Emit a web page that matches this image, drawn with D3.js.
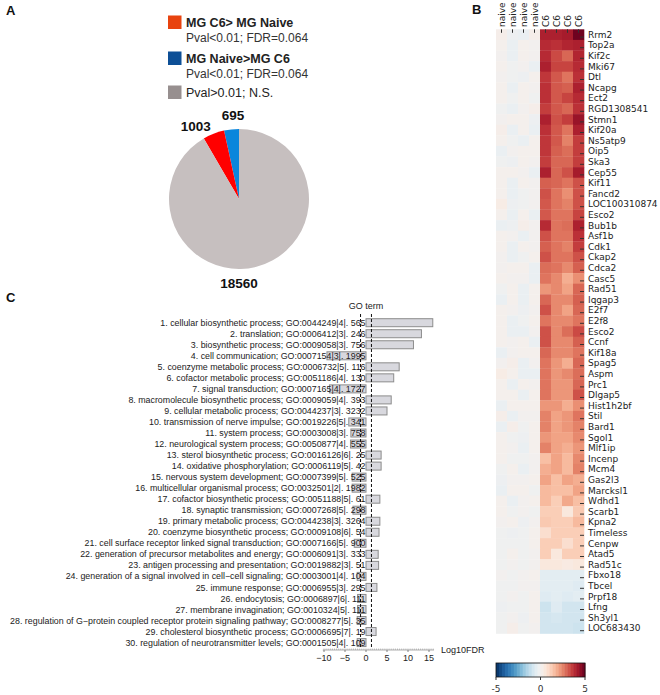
<!DOCTYPE html>
<html><head><meta charset="utf-8">
<script src="https://cdn.jsdelivr.net/npm/d3@7"></script>
<style>html,body{margin:0;padding:0;background:#fff;}svg{display:block;}</style>
</head><body>
<script>
// ---------- Panel A data ----------
const pieLabels = ["695", "1003", "18560"];
const pieCounts = [695, 1003, 18560];
const pieColors = ["#0a86dc", "#ff0000", "#c6bfbf"];
const legendTitles = ["MG C6> MG Naive", "MG Naive>MG C6", "Pval>0.01; N.S."];
const legendSubs = ["Pval<0.01; FDR=0.064", "Pval<0.01; FDR=0.064", ""];
const legendColors = ["#e8430f", "#0d4f96", "#978f8f"];
const legendBold = [true, true, false];

// ---------- Panel B data ----------
const sampleLabels = ["naive","naive","naive","naive","C6","C6","C6","C6"];
const genes = ["Rrm2","Top2a","Kif2c","Mki67","Dtl","Ncapg","Ect2","RGD1308541","Stmn1","Kif20a",
 "Ns5atp9","Oip5","Ska3","Cep55","Kif11","Fancd2","LOC100310874","Esco2","Bub1b","Asf1b",
 "Cdk1","Ckap2","Cdca2","Casc5","Rad51","Iqgap3","E2f7","E2f8","Esco2","Ccnf",
 "Kif18a","Spag5","Aspm","Prc1","Dlgap5","Hist1h2bf","Stil","Bard1","Sgol1","Mlf1ip",
 "Incenp","Mcm4","Gas2l3","Marcksl1","Wdhd1","Scarb1","Kpna2","Timeless","Cenpw","Atad5",
 "Rad51c","Fbxo18","Tbcel","Prpf18","Lfng","Sh3yl1","LOC683430"];
const naiveValues = [
 [0.2,-0.2,-0.3,0.2],[0.1,-0.3,0.1,0.0],[0.0,-0.3,0.1,0.0],[0.1,-0.1,0.0,-0.3],[0.0,-0.1,-0.2,0.1],
 [0.1,-0.3,0.1,0.0],[0.1,-0.1,0.1,-0.1],[-0.1,-0.3,0.0,0.2],[0.0,0.1,0.1,-0.2],[0.2,-0.3,0.1,-0.3],
 [0.1,-0.1,-0.3,0.1],[-0.3,0.0,0.1,0.1],[-0.1,-0.2,0.1,0.0],[0.1,0.1,0.0,-0.3],[0.1,-0.3,0.1,0.0],
 [0.1,-0.3,-0.1,0.0],[0.3,-0.2,-0.1,0.0],[0.1,-0.3,0.1,-0.3],[-0.3,-0.2,0.2,0.0],[0.1,0.0,-0.3,0.0],
 [0.1,-0.3,0.1,0.0],[0.0,-0.3,-0.1,0.1],[0.0,0.1,0.1,-0.3],[0.1,0.0,0.0,-0.3],[-0.1,0.1,-0.3,0.1],
 [-0.3,0.1,-0.3,0.1],[0.1,0.0,-0.2,0.0],[0.1,-0.3,-0.1,0.1],[0.1,-0.3,-0.3,0.0],[0.1,0.0,0.1,-0.3],
 [-0.3,0.0,0.1,0.1],[0.0,0.2,-0.3,0.0],[0.3,0.1,-0.3,-0.3],[0.1,-0.3,0.1,0.0],[0.1,0.1,-0.3,0.1],
 [-0.3,0.1,0.1,0.1],[0.2,-0.3,0.0,0.0],[-0.3,0.2,-0.1,0.1],[0.1,-0.1,-0.2,0.1],[0.1,0.0,-0.3,0.1],
 [0.1,-0.1,-0.1,0.0],[-0.1,0.1,-0.3,0.0],[-0.2,0.0,0.0,0.1],[-0.3,0.1,0.1,-0.1],[0.1,-0.3,0.0,0.1],
 [0.1,-0.1,0.0,-0.1],[0.0,0.1,-0.2,0.0],[-0.1,-0.2,-0.1,0.1],[-0.1,-0.1,-0.1,0.1],[-0.1,0.1,-0.1,0.0],
 [-0.1,0.0,-0.1,0.0],[0.0,-0.1,0.0,0.1],[-0.1,-0.1,0.0,0.0],[-0.1,0.0,-0.1,0.1],[-0.2,-0.1,-0.1,0.1],
 [-0.1,0.0,-0.2,0.1],[-0.1,0.2,-0.1,0.0]];
const c6Values = [
 [4.0,4.0,4.1,4.9],[3.8,3.7,3.9,4.0],[3.8,3.3,2.9,3.9],[4.0,3.4,3.4,3.8],[3.6,3.1,2.7,3.7],
 [3.7,3.1,3.0,4.0],[3.7,3.1,3.4,3.8],[3.5,3.1,2.9,3.7],[4.0,3.2,3.5,4.3],[3.7,3.1,2.7,4.0],
 [3.6,3.1,2.5,3.5],[3.6,3.0,2.8,3.5],[3.5,2.9,2.9,3.5],[4.0,2.9,3.2,4.1],[3.0,2.9,2.7,3.2],
 [3.2,2.7,2.3,3.2],[3.1,2.7,2.5,3.2],[3.1,2.7,2.7,3.4],[3.8,2.7,2.8,4.0],[3.2,2.7,2.7,3.7],
 [3.0,2.7,2.5,3.5],[3.2,2.7,2.7,3.2],[2.8,2.7,2.4,3.0],[2.7,2.4,1.8,2.3],[2.2,2.4,2.0,2.9],
 [2.9,2.4,2.4,3.0],[3.2,2.4,2.0,2.9],[2.7,2.4,2.4,2.7],[3.2,2.4,2.8,3.3],[3.2,2.4,2.4,3.0],
 [2.9,2.4,2.4,2.7],[2.7,2.2,1.8,2.9],[2.7,2.2,2.4,2.8],[2.7,2.2,2.2,2.9],[2.7,2.2,2.2,3.2],
 [2.2,2.2,1.8,2.3],[2.5,2.0,2.2,2.7],[2.5,2.0,2.2,2.5],[2.2,2.0,2.0,2.4],[2.5,2.0,1.8,2.2],
 [1.5,2.0,1.6,2.4],[1.8,2.0,1.6,2.5],[2.0,1.5,2.0,1.8],[1.6,1.5,1.5,2.0],[1.6,1.2,1.9,1.5],
 [1.2,1.2,0.5,1.3],[1.3,1.2,1.2,1.6],[0.8,1.2,1.2,1.2],[1.2,1.2,0.8,1.2],[1.2,0.5,1.2,1.2],
 [0.5,0.5,0.4,0.5],[-0.5,-0.5,-0.5,-0.5],[-0.5,-0.5,-0.5,-0.6],[-0.6,-0.5,-0.6,-0.5],[-1.0,-0.6,-0.9,-0.9],
 [-0.9,-0.8,-0.9,-0.9],[-0.9,-0.9,-0.9,-1.0]];
const colorbarTicks = [-5, 0, 5];

// ---------- Panel C data ----------
const goTerms = [
 "1. cellular biosynthetic process; GO:0044249|4|. 565",
 "2. translation; GO:0006412|3|. 246",
 "3. biosynthetic process; GO:0009058|3|. 756",
 "4. cell communication; GO:0007154|3|. 1995",
 "5. coenzyme metabolic process; GO:0006732|5|. 116",
 "6. cofactor metabolic process; GO:0051186|4|. 130",
 "7. signal transduction; GO:0007165|4|. 1727",
 "8. macromolecule biosynthetic process; GO:0009059|4|. 393",
 "9. cellular metabolic process; GO:0044237|3|. 3232",
 "10. transmission of nerve impulse; GO:0019226|5|. 341",
 "11. system process; GO:0003008|3|. 758",
 "12. neurological system process; GO:0050877|4|. 555",
 "13. sterol biosynthetic process; GO:0016126|6|. 25",
 "14. oxidative phosphorylation; GO:0006119|5|. 42",
 "15. nervous system development; GO:0007399|5|. 525",
 "16. multicellular organismal process; GO:0032501|2|. 1982",
 "17. cofactor biosynthetic process; GO:0051188|5|. 61",
 "18. synaptic transmission; GO:0007268|5|. 298",
 "19. primary metabolic process; GO:0044238|3|. 3264",
 "20. coenzyme biosynthetic process; GO:0009108|6|. 54",
 "21. cell surface receptor linked signal transduction; GO:0007166|5|. 900",
 "22. generation of precursor metabolites and energy; GO:0006091|3|. 333",
 "23. antigen processing and presentation; GO:0019882|3|. 51",
 "24. generation of a signal involved in cell\u2212cell signaling; GO:0003001|4|. 104",
 "25. immune response; GO:0006955|3|. 295",
 "26. endocytosis; GO:0006897|6|. 111",
 "27. membrane invagination; GO:0010324|5|. 111",
 "28. regulation of G\u2212protein coupled receptor protein signaling pathway; GO:0008277|5|. 35",
 "29. cholesterol biosynthetic process; GO:0006695|7|. 19",
 "30. regulation of neurotransmitter levels; GO:0001505|4|. 109"];
const goLog10FDR = [15.9,13.2,11.3,-9.3,7.9,6.6,-8.7,6.0,5.0,-4.1,-3.6,-3.7,3.6,3.6,-3.3,
 -3.3,3.3,-3.1,3.3,3.1,-2.8,2.9,3.0,-2.1,2.6,-2.0,-2.0,-2.1,2.4,-2.1];
const fdrThreshold = [-1.3, 1.3];
const xTicks = [-10, -5, 0, 5, 10, 15];

// ---------- drawing ----------
const W = 660, H = 695;
const svg = d3.select("body").append("svg").attr("width", W).attr("height", H);
const ARIAL = "Liberation Sans, Arial, sans-serif";
const DEJAVU = "DejaVu Sans, sans-serif";

function letter(t, x, y) {
  svg.append("text").attr("x", x).attr("y", y).text(t)
    .attr("font-family", ARIAL).attr("font-weight", "bold").attr("font-size", 13).attr("fill", "#111");
}
letter("A", 6, 15); letter("B", 472, 14); letter("C", 6, 302);

// Panel A legend
const leg = svg.append("g");
const legY = [15.5, 51.5, 85.5];
legendTitles.forEach((t, i) => {
  leg.append("rect").attr("x", 168).attr("y", legY[i]).attr("width", 13.5).attr("height", 13.5)
    .attr("fill", legendColors[i]);
  leg.append("text").attr("x", 186).attr("y", legY[i] + 11.5).text(t)
    .attr("font-family", ARIAL).attr("font-size", 12.5)
    .attr("font-weight", legendBold[i] ? "bold" : "normal").attr("fill", "#222");
  if (legendSubs[i]) leg.append("text").attr("x", 186).attr("y", legY[i] + 26).text(legendSubs[i])
    .attr("font-family", ARIAL).attr("font-size", 12).attr("fill", "#333");
});

// Pie
const cx = 239, cy = 199, R = 70;
const pie = d3.pie().sort(null).startAngle(0).endAngle(-2 * Math.PI);
const arcs = pie(pieCounts);
const arc = d3.arc().innerRadius(0).outerRadius(R);
const pg = svg.append("g").attr("transform", `translate(${cx},${cy})`);
pg.selectAll("path").data(arcs).join("path").attr("d", arc).attr("fill", (d, i) => pieColors[i]);
const labDist = [84, 78, 84], labShift = [3, 0, 0], labAnchor = ["middle", "end", "middle"];
arcs.forEach((d, i) => {
  let a = (d.startAngle + d.endAngle) / 2;
  if (i === 2) a = -Math.PI;
  const x = Math.sin(a) * labDist[i] + labShift[i], y = -Math.cos(a) * labDist[i];
  pg.append("text").attr("x", x).attr("y", y).attr("dy", "0.36em").attr("text-anchor", labAnchor[i])
    .text(pieLabels[i]).attr("font-family", ARIAL).attr("font-weight", "bold").attr("font-size", 13.5).attr("fill", "#111");
});

// Panel B heatmap
const hx0 = 496, hx1 = 584, hy0 = 29.3, hy1 = 633.5;
const xs = d3.scaleBand().domain(d3.range(sampleLabels.length)).range([hx0, hx1]);
const ys = d3.scaleBand().domain(d3.range(genes.length)).range([hy0, hy1]);
const color = v => d3.interpolateRdBu((5 - Math.max(-5, Math.min(5, v))) / 10);
const hg = svg.append("g");
genes.forEach((g, r) => {
  const row = naiveValues[r].concat(c6Values[r]);
  row.forEach((v, c) => {
    hg.append("rect").attr("x", xs(c)).attr("y", ys(r)).attr("width", xs.bandwidth() + 0.3)
      .attr("height", ys.bandwidth() + 0.3).attr("fill", color(v));
  });
  const yc = ys(r) + ys.bandwidth() / 2;
  hg.append("line").attr("x1", hx1 - 4).attr("x2", hx1).attr("y1", yc + 2.5).attr("y2", yc + 2.5)
    .attr("stroke", "#333").attr("stroke-width", 1);
  hg.append("text").attr("x", 588).attr("y", yc).attr("dy", "0.35em").text(g)
    .attr("font-family", DEJAVU).attr("font-size", 9).attr("fill", "#222");
});
sampleLabels.forEach((s, c) => {
  const xc = xs(c) + xs.bandwidth() / 2;
  hg.append("line").attr("x1", xc).attr("x2", xc).attr("y1", hy0).attr("y2", hy0 + 3.5)
    .attr("stroke", "#333").attr("stroke-width", 1);
  hg.append("text").attr("transform", `translate(${xc + 3},27) rotate(-90)`).attr("text-anchor", "start")
    .text(s).attr("font-family", DEJAVU).attr("font-size", 9).attr("fill", "#222");
});

// Colorbar
const cbx = d3.scaleLinear().domain([-5, 5]).range([496, 585]);
const nSteps = 30;
const cb = svg.append("g");
d3.range(nSteps).forEach(i => {
  const v0 = -5 + 10 * i / nSteps, v1 = -5 + 10 * (i + 1) / nSteps;
  cb.append("rect").attr("x", cbx(v0)).attr("y", 663).attr("width", cbx(v1) - cbx(v0) + 0.4).attr("height", 14)
    .attr("fill", color((v0 + v1) / 2));
});
cb.append("rect").attr("x", 496).attr("y", 663).attr("width", 89).attr("height", 14)
  .attr("fill", "none").attr("stroke", "#111").attr("stroke-width", 0.8);
colorbarTicks.forEach(t => {
  cb.append("line").attr("x1", cbx(t)).attr("x2", cbx(t)).attr("y1", 677).attr("y2", 680).attr("stroke", "#333");
  cb.append("text").attr("x", cbx(t)).attr("y", 692).attr("text-anchor", "middle").text(String(t))
    .attr("font-family", DEJAVU).attr("font-size", 9).attr("fill", "#333");
});

// Panel C bar chart
const FS = 8.85;
const xC = d3.scaleLinear().domain([-10, 15]).range([324, 429]);
const rowY = i => 322.7 + i * 11.03;
const cg = svg.append("g");
goLog10FDR.forEach((v, i) => {
  cg.append("rect").attr("x", xC(Math.min(0, v))).attr("y", rowY(i) - 4)
    .attr("width", Math.abs(xC(v) - xC(0))).attr("height", 8)
    .attr("fill", "#d8d8de").attr("stroke", "#8c8c8c").attr("stroke-width", 1);
});
goTerms.forEach((t, i) => {
  cg.append("text").attr("x", xC(0) - 0.5).attr("y", rowY(i)).attr("dy", "0.35em").attr("text-anchor", "end")
    .text(t).attr("font-family", ARIAL).attr("font-size", FS).attr("fill", "#222");
});
fdrThreshold.forEach(f => {
  cg.append("line").attr("x1", xC(f)).attr("x2", xC(f)).attr("y1", 314).attr("y2", 648)
    .attr("stroke", "#111").attr("stroke-width", 1).attr("stroke-dasharray", "3,2");
});
cg.append("text").attr("x", xC(0)).attr("y", 309).attr("text-anchor", "middle").text("GO term")
  .attr("font-family", ARIAL).attr("font-size", 9).attr("fill", "#222");
const axY = 650;
cg.append("line").attr("x1", xC(-10.3)).attr("x2", xC(16.2)).attr("y1", axY).attr("y2", axY)
  .attr("stroke", "#999").attr("stroke-width", 0.8);
d3.range(-10, 16.5, 0.5).forEach(t => {
  cg.append("line").attr("x1", xC(t)).attr("x2", xC(t)).attr("y1", axY - 1.5).attr("y2", axY)
    .attr("stroke", "#999").attr("stroke-width", 0.6);
});
xTicks.forEach(t => {
  cg.append("line").attr("x1", xC(t)).attr("x2", xC(t)).attr("y1", axY).attr("y2", axY + 2)
    .attr("stroke", "#666").attr("stroke-width", 0.8);
  cg.append("text").attr("x", xC(t)).attr("y", axY + 11).attr("text-anchor", "middle")
    .text(t < 0 ? "\u2212" + Math.abs(t) : String(t))
    .attr("font-family", ARIAL).attr("font-size", 9).attr("fill", "#222");
});
cg.append("text").attr("x", 441).attr("y", axY + 3).text("Log10FDR")
  .attr("font-family", ARIAL).attr("font-size", 9).attr("fill", "#222");
</script>
</body></html>
